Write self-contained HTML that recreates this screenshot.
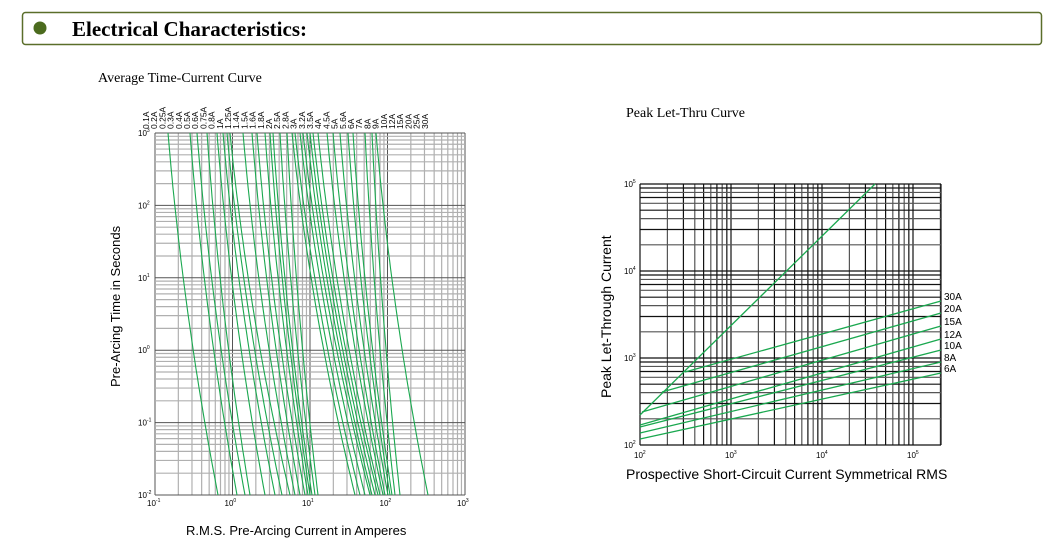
<!DOCTYPE html><html><head><meta charset="utf-8"><style>
body{margin:0;background:#fff;width:1056px;height:553px;overflow:hidden;font-family:"Liberation Sans",sans-serif}
</style></head><body>
<svg id="s" width="1056" height="553" xmlns="http://www.w3.org/2000/svg" font-family="Liberation Sans, sans-serif">
<rect x="22.5" y="12.5" width="1019" height="32" rx="3" fill="#fff" stroke="#5a6e2a" stroke-width="1.5"/>
<circle cx="40" cy="28" r="6.5" fill="#4b6b1e"/>
<text x="72" y="36" font-family="Liberation Serif, serif" font-weight="bold" font-size="21">Electrical Characteristics:</text>
<text x="98" y="82" font-family="Liberation Serif, serif" font-size="14">Average Time-Current Curve</text>
<text x="626" y="117" font-family="Liberation Serif, serif" font-size="14">Peak Let-Thru Curve</text>
<text x="186" y="535" font-size="13">R.M.S. Pre-Arcing Current in Amperes</text>
<text transform="translate(120,387) rotate(-90)" font-size="13">Pre-Arcing Time in Seconds</text>
<text x="626" y="479" font-size="14">Prospective Short-Circuit Current Symmetrical RMS</text>
<text transform="translate(611,398) rotate(-90)" font-size="14">Peak Let-Through Current</text>
<g id="g"></g>
</svg>
<script>
var g=document.getElementById('g'),h='';
function L(x1,y1,x2,y2,c,w){h+='<line x1="'+x1+'" y1="'+y1+'" x2="'+x2+'" y2="'+y2+'" stroke="'+c+'" stroke-width="'+w+'"/>';}
function T(x,y,t,s,a){h+='<text x="'+x+'" y="'+y+'" font-size="'+s+'"'+(a||'')+'>'+t+'</text>';}
var X0=155,DX=77.5,Y0=133,DY=72.4;
for(var d=0;d<4;d++)for(var k=1;k<10;k++){var x=X0+DX*(d+Math.log10(k));L(x,Y0,x,Y0+5*DY,k==1?'#555':'#b0b0b0',k==1?1:1.2);}
L(465,Y0,465,Y0+5*DY,'#555',1);
for(var d=0;d<5;d++)for(var k=1;k<10;k++){var y=Y0+5*DY-DY*(d+Math.log10(k));L(X0,y,465,y,k==1?'#555':'#b0b0b0',k==1?1:1.2);}
L(X0,Y0,465,Y0,'#555',1);
var ex=['-1','0','1','2','3'];for(var i=0;i<5;i++){T(X0+DX*i-8,Y0+5*DY+11,'10<tspan font-size="5" dy="-4">'+ex[i]+'</tspan>',8);}
var ey=['3','2','1','0','-1','-2'];for(var i=0;i<6;i++){T(X0-17,Y0+DY*i+3,'10<tspan font-size="5" dy="-4">'+ey[i]+'</tspan>',8);}
var labs=['0.1A','0.2A','0.25A','0.3A','0.4A','0.5A','0.6A','0.75A','0.8A','1A','1.25A','1.4A','1.5A','1.6A','1.8A','2A','2.5A','2.8A','3A','3.2A','3.5A','4A','4.5A','5A','5.6A','6A','7A','8A','9A','10A','12A','15A','20A','25A','30A'];
for(var i=0;i<labs.length;i++){var x=146+i*8.2;T(0,0,labs[i],8.5,' transform="translate('+(x+3)+',129) rotate(-90)"');}
var tops=[168,190,197,207,217,223,227,230,243,252,257,265,270,273,280,287,292,295,300,303,307,310,313,318,327,333,340,348,353,365,372,376];
var bots=[218,237,245,250,265,275,282,290,295,300,305,308,310,312,315,318,355,360,365,370,372,375,378,380,383,385,388,390,392,395,400,428];
tops.sort(function(a,b){return a-b});
for(var i=0;i<tops.length;i++){var p='';for(var s=0;s<=40;s++){var f=s/40;var y=Y0+f*5*DY;var x=tops[i]+(bots[i]-tops[i])*(0.6*f+0.4*f*f);if(x>465)break;p+=(s?'L':'M')+x.toFixed(1)+','+y.toFixed(1);}h+='<path d="'+p+'" fill="none" stroke="#1aa84f" stroke-width="1.1"/>';}
var RX=640,RD=91,RY=445,RYD=87;
for(var d=0;d<4;d++)for(var k=1;k<10;k++){var x=RX+RD*(d+Math.log10(k));if(x>941)break;L(x,184,x,445,k%2?'#111':'#555',1.2);}
L(941,184,941,445,'#111',1.2);
for(var d=0;d<3;d++)for(var k=1;k<10;k++){var y=RY-RYD*(d+Math.log10(k));L(RX,y,941,y,k%2?'#111':'#555',1.2);}
L(RX,184,941,184,'#111',1.2);
var rx=['2','3','4','5'];for(var i=0;i<4;i++)T(RX+RD*i-6,RY+13,'10<tspan font-size="5" dy="-4">'+rx[i]+'</tspan>',8);
for(var i=0;i<4;i++)T(RX-16,RY-RYD*i+3,'10<tspan font-size="5" dy="-4">'+(i+2)+'</tspan>',8);
var G='#1aa84f';
L(640,415,875,184,G,1.3);
var F=[[685,372,941,301,'30A'],[662,392,941,313,'20A'],[642,412,941,326,'15A'],[640,425,941,339,'12A'],[640,427,941,350,'10A'],[640,433,941,362,'8A'],[640,439,941,373,'6A']];
for(var i=0;i<F.length;i++){L(F[i][0],F[i][1],F[i][2],F[i][3],G,1.3);T(944,F[i][3]-1,F[i][4],10);}
g.innerHTML=h;
</script>
</body></html>
